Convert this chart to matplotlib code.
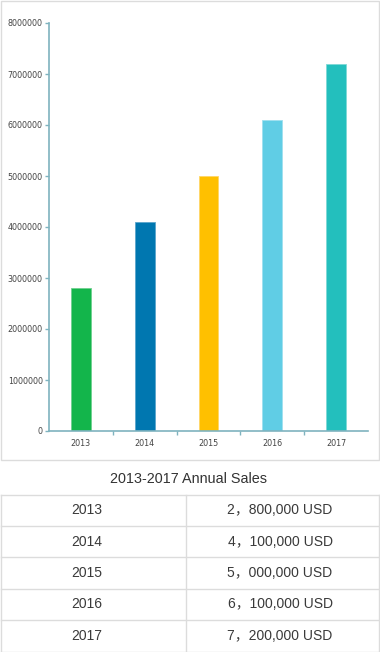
import matplotlib.pyplot as plt
from matplotlib.patches import Rectangle
from matplotlib.lines import Line2D

years = ['2013', '2014', '2015', '2016', '2017']
sales = [2800000, 4100000, 5000000, 6100000, 7200000]
bar_colors = ['#13b54b', '#0077b0', '#ffc000', '#60cde5', '#23bfbd']
edge_colors = ['#6fd08f', '#5aa5cc', '#ffd666', '#9fe0ef', '#7fd9d7']
yticks = [0, 1000000, 2000000, 3000000, 4000000, 5000000, 6000000, 7000000, 8000000]
title = '2013-2017 Annual Sales'

W, H = 380, 652
axis_col = '#7fb3bf'
text_col = '#444444'
border_col = '#dcdcdc'
fam = ['Liberation Sans', 'Noto Sans CJK SC']

fig = plt.figure(figsize=(W / 100, H / 100), dpi=100)


def fx(px):
    return px / W


def fy(py):
    return 1 - py / H


# chart panel border
fig.patches.append(Rectangle((fx(0.5), fy(459.5)), fx(378), (459 / H),
                             transform=fig.transFigure, fill=False,
                             edgecolor=border_col, lw=1))

ax = fig.add_axes([fx(49), fy(431), fx(368) - fx(49), fy(23) - fy(431)])
x = list(range(len(years)))
ax.bar(x, sales, width=0.31, color=bar_colors, edgecolor=edge_colors, linewidth=0.6)
ax.set_xlim(-0.5, len(years) - 0.5)
ax.set_ylim(0, 8000000)
ax.set_yticks(yticks)
ax.set_yticklabels([str(v) for v in yticks])
ax.set_xticks(x)
ax.set_xticklabels(years)
ax.set_xticks([i + 0.5 for i in range(len(years) - 1)], minor=True)
ax.tick_params(axis='x', which='major', length=0, pad=6, labelsize=5.8, labelcolor=text_col)
ax.tick_params(axis='x', which='minor', length=3, color=axis_col, width=1)
ax.tick_params(axis='y', length=3, color=axis_col, width=1, pad=1.5, labelsize=5.8,
               labelcolor=text_col)
for s in ['top', 'right']:
    ax.spines[s].set_visible(False)
for s in ['left', 'bottom']:
    ax.spines[s].set_color(axis_col)
    ax.spines[s].set_linewidth(1.2)

fig.text(fx(189), fy(479), title, ha='center', va='center', fontsize=10.4,
         color='#333333', family=fam)

# table
top, bottom = 494.5, 651.5
left, right, mid = 0.5, 378.5, 185.5
row_h = (bottom - top) / len(years)
for i in range(len(years) + 1):
    yy = top + i * row_h
    fig.add_artist(Line2D([fx(left), fx(right)], [fy(yy), fy(yy)],
                          transform=fig.transFigure, color=border_col, lw=1))
for xx in [left, mid, right]:
    fig.add_artist(Line2D([fx(xx), fx(xx)], [fy(top), fy(bottom)],
                          transform=fig.transFigure, color=border_col, lw=1))

for i, (yr, v) in enumerate(zip(years, sales)):
    yc = fy(top + (i + 0.5) * row_h)
    label = f"{v // 1000000}，{v % 1000000:07,} USD"
    fig.text(fx(87), yc, yr, ha='center', va='center', fontsize=10,
             color='#3a3a3a', family=fam)
    fig.text(fx(280), yc, label, ha='center', va='center', fontsize=10,
             color='#3a3a3a', family=fam)

fig.savefig('out.png', dpi=100)
